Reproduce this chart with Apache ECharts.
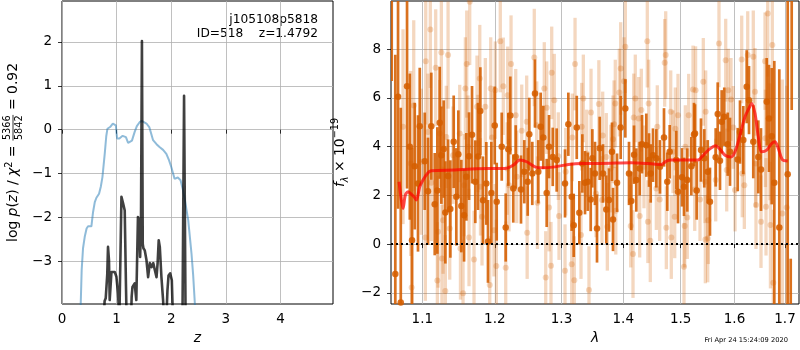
<!DOCTYPE html>
<html><head><meta charset="utf-8">
<script src="https://cdn.jsdelivr.net/npm/echarts@6/dist/echarts.min.js"></script>
<style>html,body{margin:0;padding:0;background:#fff}#c{width:800px;height:350px}</style>
</head><body><div id="c"></div>
<script>
// ---------- Left panel: log p(z) ----------
const blueZ = [0.335,0.36,0.385,0.416,0.45,0.477,0.538,0.568,0.6,0.63,0.678,0.71,0.74,0.782,0.81,0.831,0.88,0.93,0.965,0.985,1.008,1.05,1.11,1.17,1.21,1.24,1.28,1.33,1.37,1.42,1.46,1.546,1.6,1.667,1.73,1.79,1.85,1.91,1.96,2.0,2.06,2.09,2.12,2.17,2.21,2.25,2.31,2.37,2.40,2.43,2.45];
const blueLogP = [-4.3,-3.2,-2.7,-2.44,-2.25,-2.2,-2.2,-1.88,-1.65,-1.55,-1.46,-1.3,-1.08,-0.55,-0.15,0.02,0.06,0.14,0.14,0.1,-0.2,-0.2,-0.14,-0.17,-0.3,-0.32,-0.25,-0.05,0.08,0.17,0.2,0.14,0.05,-0.24,-0.33,-0.4,-0.46,-0.55,-0.7,-0.85,-1.12,-1.1,-1.09,-1.15,-1.35,-1.61,-2.06,-2.82,-3.3,-3.93,-4.5];
const darkZ = [0.764,0.78,0.80,0.828,0.842,0.86,0.873,0.905,0.935,0.965,0.996,1.025,1.05,1.075,1.088,1.117,1.148,1.17,1.185,1.26,1.275,1.29,1.33,1.36,1.39,1.41,1.43,1.445,1.463,1.478,1.49,1.515,1.546,1.576,1.607,1.64,1.67,1.70,1.73,1.75,1.77,1.79,1.82,1.85,1.87,1.91,1.93,1.95,1.98,2.01,2.03,2.205,2.234,2.262];
const darkLogP = [-4.3,-3.9,-3.84,-3.3,-2.67,-2.97,-3.88,-3.24,-3.27,-3.24,-3.35,-3.73,-4.3,-2.5,-1.53,-1.67,-1.84,-3.5,-4.5,-4.5,-3.8,-3.58,-3.5,-3.88,-1.99,-2.06,-2.9,-2.2,2.02,-2.6,-2.7,-2.75,-2.97,-3.36,-3.04,-3.13,-3.04,-3.2,-3.36,-3.04,-2.52,-2.67,-3.36,-3.88,-4.3,-4.3,-3.66,-3.32,-3.27,-3.43,-4.3,-4.3,0.77,-4.3];
const leftXTicks = [0,1,2,3,4];
const leftYTicks = [-3,-2,-1,0,1,2];

// ---------- Right panel: spectrum ----------
const lamDark = [1.0603,1.0649,1.0684,1.0719,1.0800,1.0836,1.0865,1.0900,1.0943,1.0966,1.1032,1.1075,
1.1119,1.1165,1.1200,1.1232,1.1254,1.1286,1.1308,1.1345,1.1376,1.1422,1.1458,1.1486,1.1527,
1.1565,1.1597,1.1634,1.1676,1.1722,1.1760,1.1793,1.1831,1.1878,1.1902,1.1950,1.1999,1.2027,
1.2100,1.2158,1.2196,1.2225,1.2269,1.2305,1.2383,1.2432,1.2483,1.2507,
1.2552,1.2593,1.2643,1.2679,1.2719,1.2771,1.2807,1.2864,1.2925,1.3055,
1.3107,1.3160,1.3192,1.3240,1.3281,1.3329,1.3372,1.3416,1.3464,1.3490,
1.3533,1.3566,1.3610,1.3664,1.3718,1.3763,1.3812,1.3829,1.3896,1.3957,
1.4035,1.4097,1.4136,1.4182,1.4221,1.4279,1.4319,1.4393,1.4440,1.4469,
1.4509,1.4567,1.4631,1.4702,1.4760,1.4803,1.4921,1.4951,1.5023,1.5059,
1.5118,1.5192,1.5241,1.5259,1.5290,1.5369,1.5430,1.5494,1.5536,1.5643,
1.5681,1.5724,1.5756,1.5805,1.5870,1.5914,1.6062,1.6106,1.6170,1.6236,
1.6281,1.6365,1.6464,1.6517,1.6631,1.6677,1.6731,1.6783,1.6884,1.7055,
1.7117,1.7137];
const fluxDark = [12.0,-1.23,6.05,-2.40,6.48,4.00,0.16,3.20,2.49,4.84,3.40,2.17,
4.84,1.64,2.20,4.98,3.65,3.90,1.30,2.80,1.44,4.20,1.94,3.69,1.56,
1.18,2.76,3.61,4.49,2.56,3.60,5.46,1.80,2.49,0.11,2.10,4.87,1.74,
4.00,0.68,3.89,5.28,2.28,3.58,2.24,2.97,2.56,4.51,
2.90,6.18,2.97,4.82,4.38,2.10,4.00,3.58,3.45,2.49,
4.92,1.94,0.77,4.79,1.29,3.31,2.52,2.56,1.83,3.52,
2.90,0.64,3.93,2.90,1.42,1.81,3.79,1.01,2.52,4.79,
5.57,2.90,1.77,3.67,2.63,3.10,4.10,4.06,3.45,2.90,
3.65,3.52,3.17,4.38,2.56,3.79,3.45,2.15,2.74,2.35,
2.63,3.20,4.50,4.54,2.20,3.86,3.52,2.97,1.74,3.56,
5.34,3.42,5.02,5.23,4.10,3.79,3.47,4.60,4.27,6.46,
5.91,4.20,3.58,3.06,5.84,5.16,4.43,2.52,0.68,2.87,
-5.0,12.0];
const errDark = [5.3,9.0,4.6,8.0,4.2,3.0,3.8,2.6,2.8,2.4,2.0,2.2,
2.2,2.1,2.6,2.3,2.0,2.0,2.1,1.5,2.0,1.9,2.0,1.8,1.9,
1.9,1.8,1.8,2.0,1.7,2.2,1.8,1.8,1.7,1.7,2.1,1.6,1.6,
1.4,1.4,1.5,1.6,1.4,1.3,1.4,1.3,1.4,1.5,
1.3,1.4,1.3,1.4,1.3,1.4,1.3,1.2,1.3,1.4,
1.3,1.4,1.3,1.3,1.3,1.2,1.3,1.2,1.3,1.2,
1.3,1.4,1.3,1.2,1.4,1.3,1.2,1.3,1.2,1.3,
1.2,1.3,1.2,1.2,1.3,1.1,1.2,1.3,1.1,1.2,
1.1,1.2,1.1,1.2,1.2,1.1,1.2,1.3,1.2,1.2,
1.3,1.2,1.3,1.2,1.2,1.3,1.2,1.3,1.4,1.2,
1.3,1.2,1.3,1.2,1.3,1.4,1.3,1.3,1.4,1.5,
1.4,1.5,1.5,1.7,1.8,2.2,2.8,5.0,6.5,8.0,
4.4,6.5];

const lamLight = [1.0748,1.0848,1.0860,1.0887,1.0987,1.1040,1.1045,1.1075,1.1106,1.1119,
1.1178,1.1200,1.1209,1.1232,1.1254,1.1262,1.1277,1.1308,1.1321,1.1345,
1.1368,1.1413,1.1505,1.1515,1.1551,1.1565,1.1583,1.1602,1.1620,1.1634,
1.1644,1.1704,1.1746,1.1760,1.1785,1.1795,1.1817,1.1864,1.1927,1.1941,
1.1960,1.1988,1.2007,1.2022,1.2079,1.2123,1.2158,1.2187,1.2180,1.2206,
1.2236,1.2305,1.2320,1.2394,1.2468,1.2475,1.2582,1.2619,1.2630,1.2734,
1.2756,1.2771,1.2807,1.2837,1.2848,1.2888,1.2950,1.2961,1.3055,1.3066,
1.3160,1.3170,1.3201,1.3213,1.3308,1.3319,1.3345,1.3399,1.3436,1.3469,
1.3550,1.3596,1.3647,1.3659,1.3718,1.3735,1.3791,1.3829,1.3846,1.3867,
1.3875,1.3934,1.3957,1.4013,1.4035,1.4126,1.4165,1.4177,1.4204,1.4262,
1.4279,1.4307,1.4353,1.4410,1.4420,1.4434,1.4462,1.4567,1.4584,1.4626,
1.4714,1.4732,1.4743,1.4821,1.4831,1.4862,1.4892,1.4903,1.4951,1.5059,
1.5072,1.5083,1.5118,1.5144,1.5223,1.5254,1.5270,1.5351,1.5412,1.5443,
1.5450,1.5456,1.5494,1.5505,1.5643,1.5705,1.5832,1.5851,1.5881,1.5933,
1.5977,1.6010,1.6139,1.6150,1.6190,1.6256,1.6365,1.6399,1.6410,1.6418,
1.6517,1.6597,1.6605,1.6617,1.6651,1.6697,1.6705,1.6743,1.6763,1.6945,
1.7035];
const fluxLight = [4.82,3.31,-1.78,5.69,3.38,0.27,7.51,4.60,8.81,2.52,
7.24,-1.50,0.51,4.54,7.87,-0.59,0.98,-1.93,4.40,7.76,
0.64,3.65,4.54,-0.18,-2.02,2.42,6.39,7.39,4.00,0.27,
9.95,-0.63,5.64,4.13,6.80,2.35,1.12,5.64,-1.68,6.39,
4.38,0.57,6.32,-0.90,8.33,6.48,-0.97,6.11,3.10,2.42,
7.39,5.29,2.76,4.65,5.02,0.47,7.66,4.88,1.70,6.39,
-1.37,5.60,1.50,-0.89,7.03,5.91,3.61,1.15,-1.09,2.97,
-0.83,4.38,-1.48,7.39,0.37,4.82,5.98,3.72,-1.89,5.40,
2.08,5.75,1.81,4.46,3.58,0.71,3.10,4.30,4.92,5.77,
1.37,6.22,7.21,6.69,8.10,0.74,-0.41,5.20,5.98,5.16,
1.15,5.50,3.17,8.33,0.92,5.77,0.14,2.28,4.82,1.83,
7.44,7.76,0.67,5.43,0.27,3.79,1.12,4.73,5.29,-0.93,
0.74,4.00,1.09,5.29,6.35,2.24,6.32,1.83,6.66,2.56,
0.19,5.43,0.23,0.98,2.63,8.24,7.55,3.04,6.32,5.94,
4.79,2.22,7.58,2.90,2.42,7.76,7.69,6.25,3.31,1.60,
0.92,7.51,4.34,1.53,9.47,4.20,0.78,8.17,-1.59,1.26,
1.50];
const errLight = [4.0,3.8,4.0,3.5,3.0,2.6,2.6,2.4,2.4,2.4,
2.4,2.4,2.3,2.2,2.3,2.2,2.2,2.3,2.1,2.2,
2.1,2.0,2.0,2.1,2.2,2.1,2.1,2.2,2.1,2.0,
2.6,2.0,2.1,2.0,2.2,2.0,2.0,2.0,2.0,2.1,
1.9,1.9,2.0,1.9,2.1,2.0,1.9,2.0,1.9,1.9,
2.0,1.9,1.9,1.9,1.9,1.9,2.0,1.8,1.9,1.9,
1.9,1.9,1.8,1.8,1.9,1.9,1.8,1.8,1.9,1.8,
1.8,1.8,1.8,1.9,1.8,1.8,1.8,1.8,1.8,1.8,
1.8,1.8,1.8,1.8,1.8,1.8,1.8,1.8,1.8,1.8,
1.8,1.8,1.9,1.8,1.9,1.7,1.8,1.8,1.8,1.7,
1.7,1.7,1.7,1.9,1.7,1.8,1.7,1.7,1.7,1.7,
1.8,1.8,1.7,1.7,1.7,1.7,1.7,1.7,1.7,1.8,
1.7,1.7,1.7,1.7,1.8,1.7,1.8,1.7,1.8,1.7,
1.8,1.7,1.8,1.8,1.7,1.8,1.7,1.7,1.7,1.7,
1.7,1.7,1.8,1.8,1.8,1.8,1.9,1.8,1.8,1.8,
1.9,2.0,2.0,2.0,2.6,2.4,2.6,3.0,3.0,5.5,
5.0];

const lamModel = [1.0697,1.0726,1.0748,1.0778,1.0813,1.0843,1.0891,1.0921,1.0966,1.1009,1.1075,1.1119,1.1436,1.1666,1.1902,1.2148,1.2269,1.2368,1.2468,1.2593,1.2695,1.2899,1.3107,1.3319,1.3615,1.4136,1.4654,1.4743,1.4831,1.5314,1.5382,1.5505,1.5643,1.5724,1.5819,1.5933,1.6010,1.6106,1.6203,1.6301,1.6334,1.6399,1.6464,1.6531,1.6631,1.6731,1.6797,1.6864,1.6945,1.7055];
const fluxModel = [2.56,1.81,1.46,2.01,2.15,2.08,1.94,1.81,2.35,2.63,2.93,3.01,3.04,3.08,3.10,3.10,3.24,3.45,3.38,3.17,3.13,3.17,3.27,3.31,3.31,3.34,3.27,3.41,3.45,3.45,3.58,3.86,4.04,3.89,3.65,3.58,3.79,4.47,5.23,5.66,5.77,5.36,4.40,3.79,3.86,4.13,4.20,3.93,3.47,3.41];
const rightXTicks = [1.1,1.2,1.3,1.4,1.5,1.6,1.7];
const rightYTicks = [-2,0,2,4,6,8];

// axis limits
const zMin = 0, zMax = 4.96, lpMin = -3.97, lpMax = 2.93;
const lamMin = 1.0594, lamMax = 1.7288, fMin = -2.46, fMax = 9.98;

// ---------- build ----------
const FF = '"DejaVu Sans"';
const TICK = 13.5, LAB = 13.9, SMALL = 9.7;
const minus = v => (v < 0 ? '\u2212' + Math.abs(v) : String(v));
const ln = Math.log;
const zip2 = (a, b) => a.map((v, i) => [v, b[i]]);
const ORANGE = '#d55e00';

const darkData = lamDark.map((l, i) => [ln(l), fluxDark[i], errDark[i]]);
const lightData = lamLight.map((l, i) => [ln(l), fluxLight[i], errLight[i]]);
const modelData = lamModel.map((l, i) => [ln(l), fluxModel[i]]);

function errRender(color, width, opacity) {
  return function (params, api) {
    const x = api.value(0), y = api.value(1), e = api.value(2);
    const p1 = api.coord([x, y + e]), p2 = api.coord([x, y - e]);
    return { type: 'line', shape: { x1: p1[0], y1: p1[1], x2: p2[0], y2: p2[1] },
      style: { stroke: color, lineWidth: width, opacity: opacity } };
  };
}

const tickStyle = { show: true, inside: false, length: 4, lineStyle: { color: '#000', width: 0.8 } };
const splitStyle = { show: true, lineStyle: { color: '#b0b0b0', width: 0.8 } };
const lblStyle = { color: '#000', fontSize: TICK, fontFamily: FF };

const chart = echarts.init(document.getElementById('c'), null, { renderer: 'canvas' });

// text measure for the left y-label layout
const cv = document.createElement('canvas').getContext('2d');
function tw(t, size, italic) { cv.font = (italic ? 'italic ' : '') + size + 'px ' + FF; return cv.measureText(t).width; }
const w1 = tw('log ', LAB) + tw('p', LAB, true) + tw('(', LAB) + tw('z', LAB, true) + tw(') / ', LAB) + tw('\u03c7', LAB, true) + tw('2', SMALL) + tw(' = ', LAB);
const wf = Math.max(tw('5366', SMALL), tw('5842', SMALL)) + 2;
const w2 = tw(' = 0.92', LAB);
const W = w1 + wf + w2;
const x0 = -W / 2;
const richL = {
  n: { fontSize: LAB, fontFamily: FF, fill: '#000', lineHeight: 18, verticalAlign: 'middle' },
  i: { fontSize: LAB, fontFamily: FF, fontStyle: 'italic', fill: '#000', lineHeight: 18, verticalAlign: 'middle' },
  s: { fontSize: SMALL, fontFamily: FF, fill: '#000', lineHeight: 10, verticalAlign: 'top' }
};

const option = {
  animation: false,
  backgroundColor: '#fff',
  grid: [
    { left: 62, top: 1, width: 271, height: 303, show: true, borderColor: '#000', borderWidth: 1, backgroundColor: 'transparent', containLabel: false },
    { left: 391, top: 1, width: 408, height: 303, show: true, borderColor: '#000', borderWidth: 1, backgroundColor: 'transparent', containLabel: false }
  ],
  xAxis: [
    { type: 'value', gridIndex: 0, min: zMin, max: zMax,
      axisLine: { show: false }, axisTick: Object.assign({ customValues: leftXTicks }, tickStyle),
      axisLabel: Object.assign({ customValues: leftXTicks, margin: 8, formatter: minus }, lblStyle),
      splitLine: splitStyle,
      name: 'z', nameLocation: 'middle', nameGap: 27,
      nameTextStyle: { fontSize: LAB, fontFamily: FF, fontStyle: 'italic', color: '#000' } },
    { type: 'value', gridIndex: 1, min: ln(lamMin), max: ln(lamMax),
      axisLine: { show: false }, axisTick: Object.assign({ customValues: rightXTicks.map(ln) }, tickStyle),
      axisLabel: Object.assign({ customValues: rightXTicks.map(ln), margin: 8, formatter: v => Math.exp(v).toFixed(1) }, lblStyle),
      splitLine: splitStyle,
      name: '\u03bb', nameLocation: 'middle', nameGap: 27,
      nameTextStyle: { fontSize: LAB, fontFamily: FF, fontStyle: 'italic', color: '#000' } }
  ],
  yAxis: [
    { type: 'value', gridIndex: 0, min: lpMin, max: lpMax,
      axisLine: { show: false }, axisTick: Object.assign({ customValues: leftYTicks }, tickStyle),
      axisLabel: Object.assign({ customValues: leftYTicks, margin: 10, formatter: minus }, lblStyle),
      splitLine: splitStyle },
    { type: 'value', gridIndex: 1, min: fMin, max: fMax,
      axisLine: { show: false }, axisTick: Object.assign({ customValues: rightYTicks }, tickStyle),
      axisLabel: Object.assign({ customValues: rightYTicks, margin: 10, formatter: minus }, lblStyle),
      splitLine: splitStyle,
      name: '{i|f}{sub|\u03bb}{n| \u00d7 10}{sup|\u221219}', nameLocation: 'middle', nameGap: 31, nameRotate: 90,
      nameTextStyle: { color: '#000', rich: {
        i: { fontSize: LAB, fontFamily: FF, fontStyle: 'italic', color: '#000', lineHeight: 20, verticalAlign: 'middle' },
        n: { fontSize: LAB, fontFamily: FF, color: '#000', lineHeight: 20, verticalAlign: 'middle' },
        sub: { fontSize: SMALL, fontFamily: FF, fontStyle: 'italic', color: '#000', lineHeight: 10, verticalAlign: 'bottom' },
        sup: { fontSize: SMALL, fontFamily: FF, color: '#000', lineHeight: 10, verticalAlign: 'top' } } } }
  ],
  series: [
    { type: 'line', xAxisIndex: 0, yAxisIndex: 0, data: zip2(blueZ, blueLogP), showSymbol: false, clip: true,
      lineStyle: { color: '#1f77b4', width: 2, opacity: 0.5 }, z: 3 },
    { type: 'line', xAxisIndex: 0, yAxisIndex: 0, data: zip2(darkZ, darkLogP), showSymbol: false, clip: true,
      lineStyle: { color: '#000', width: 2.6, opacity: 0.75, join: 'round' }, z: 4 },
    { type: 'custom', xAxisIndex: 1, yAxisIndex: 1, data: lightData, clip: true, encode: { x: 0, y: 1 },
      renderItem: errRender(ORANGE, 3.3, 0.25), z: 2 },
    { type: 'scatter', xAxisIndex: 1, yAxisIndex: 1, data: lightData.map(d => [d[0], d[1]]), symbolSize: 6,
      itemStyle: { color: ORANGE, opacity: 0.25 }, z: 2 },
    { type: 'custom', xAxisIndex: 1, yAxisIndex: 1, data: darkData, clip: true, encode: { x: 0, y: 1 },
      renderItem: errRender(ORANGE, 2.7, 0.88), z: 3 },
    { type: 'scatter', xAxisIndex: 1, yAxisIndex: 1, data: darkData.map(d => [d[0], d[1]]), symbolSize: 6.5,
      itemStyle: { color: ORANGE, opacity: 0.88 }, z: 3 },
    { type: 'line', xAxisIndex: 1, yAxisIndex: 1, data: modelData, showSymbol: false, clip: true, smooth: 0.3,
      lineStyle: { color: '#ff0000', width: 3, opacity: 0.7 }, z: 5,
      markLine: { silent: true, symbol: ['none', 'none'], label: { show: false },
        lineStyle: { color: '#000', width: 2, type: [2, 3], opacity: 1 }, data: [{ yAxis: 0 }] } }
  ],
  graphic: [
    { type: 'text', x: 318, y: 20, style: { text: 'j105108p5818', fontSize: 12.2, fontFamily: FF, fill: '#000', align: 'right', textAlign: 'right', verticalAlign: 'middle' } },
    { type: 'text', x: 318, y: 34, style: { text: 'ID=518    z=1.4792', fontSize: 12.2, fontFamily: FF, fill: '#000', align: 'right', textAlign: 'right', verticalAlign: 'middle' } },
    { type: 'text', x: 788, y: 340, style: { text: 'Fri Apr 24 15:24:09 2020', fontSize: 6.7, fontFamily: FF, fill: '#000', align: 'right', textAlign: 'right', verticalAlign: 'middle' } },
    { type: 'group', x: 13, y: 152.5, rotation: Math.PI / 2, children: [
      { type: 'text', x: x0, y: 0, style: { text: '{n|log }{i|p}{n|(}{i|z}{n|) / }{i|\u03c7}{s|2}{n| = }', rich: richL, align: 'left', verticalAlign: 'middle' } },
      { type: 'text', x: x0 + w1 + wf / 2, y: -6, style: { text: '5366', fontSize: SMALL, fontFamily: FF, fill: '#000', align: 'center', verticalAlign: 'middle' } },
      { type: 'line', shape: { x1: x0 + w1 + 0.5, y1: 0, x2: x0 + w1 + wf - 0.5, y2: 0 }, style: { stroke: '#000', lineWidth: 0.8 } },
      { type: 'text', x: x0 + w1 + wf / 2, y: 6, style: { text: '5842', fontSize: SMALL, fontFamily: FF, fill: '#000', align: 'center', verticalAlign: 'middle' } },
      { type: 'text', x: x0 + w1 + wf, y: 0, style: { text: ' = 0.92', fontSize: LAB, fontFamily: FF, fill: '#000', align: 'left', verticalAlign: 'middle' } }
    ] }
  ]
};
chart.setOption(option);
</script>
</body></html>
